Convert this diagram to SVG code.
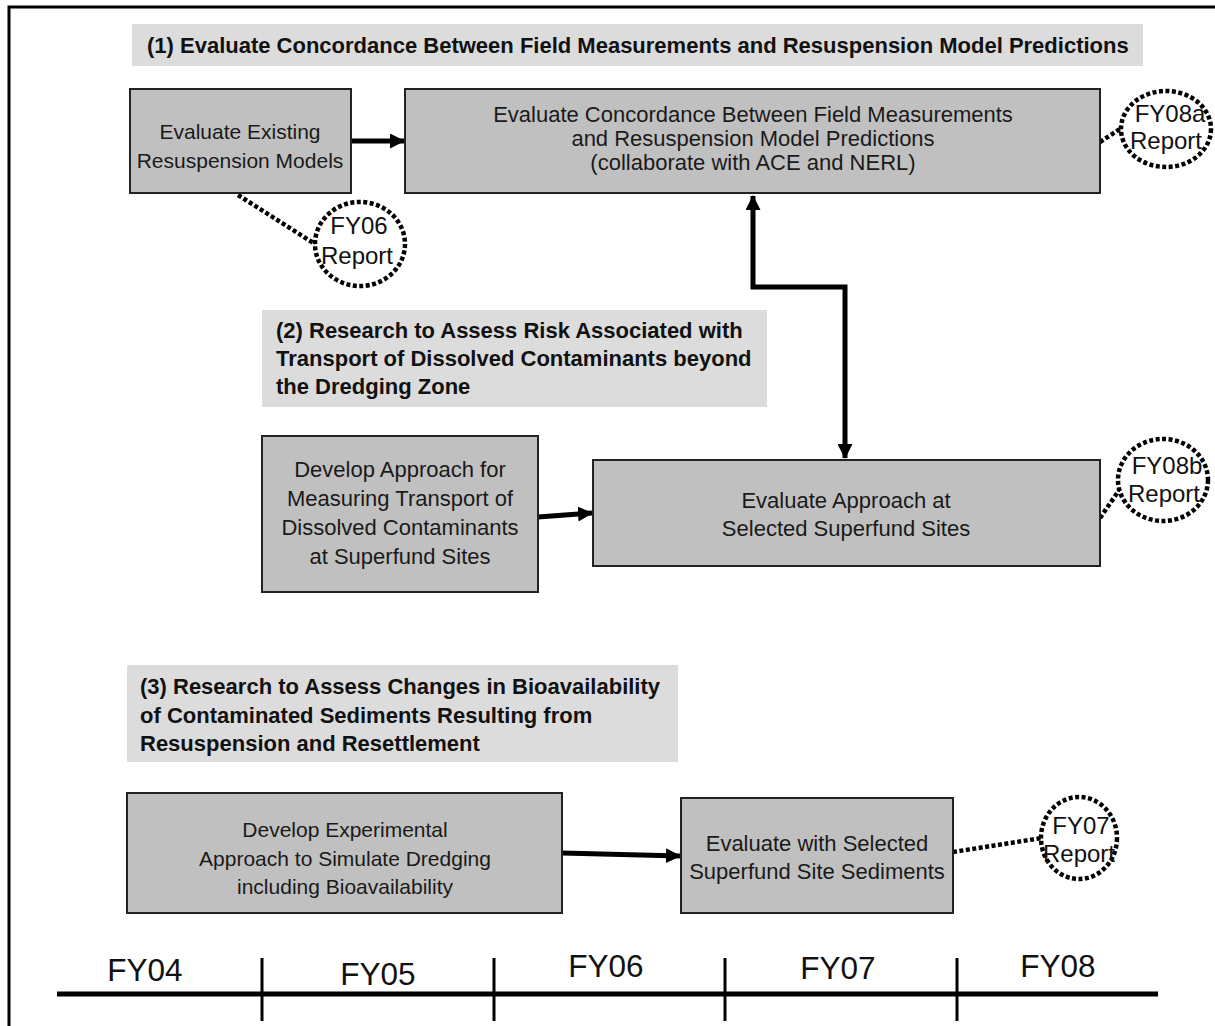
<svg xmlns="http://www.w3.org/2000/svg" width="1215" height="1026" viewBox="0 0 1215 1026">
  <style>
    .hdr { fill: #dcdcdc; stroke: none; }
    .hdr-text { font-family: "Liberation Sans", Arial, sans-serif; font-weight: bold; font-size: 22px; fill: #111; }
    .box { fill: #c0c0c0; stroke: #222; stroke-width: 2; }
    .box-text { font-family: "Liberation Sans", Arial, sans-serif; font-size: 22px; fill: #1a1a1a; text-anchor: middle; }
    .box-text.narrow { font-size: 21px; }
    .report { fill: #fff; stroke: #000; stroke-width: 4.5; stroke-dasharray: 4 2.5; }
    .report-text { font-family: "Liberation Sans", Arial, sans-serif; font-size: 24px; fill: #111; text-anchor: middle; }
    .dotted { fill: none; stroke: #000; stroke-width: 4.5; stroke-dasharray: 4 2.5; }
    .flow { fill: none; stroke: #000; stroke-width: 5; }
    .axis { stroke: #000; fill: none; }
    .year { font-family: "Liberation Sans", Arial, sans-serif; font-size: 31.5px; fill: #111; text-anchor: middle; }
  </style>
  <defs>
    <marker id="head" markerUnits="userSpaceOnUse" markerWidth="15" markerHeight="15" viewBox="0 0 15 15" refX="14" refY="7.5" orient="auto-start-reverse">
      <path d="M0,0 L15,7.5 L0,15 Z" fill="#000"/>
    </marker>
  </defs>

  <!-- frame -->
  <path d="M9,1026 V7 H1215" fill="none" stroke="#000" stroke-width="3"/>

  <!-- section headers -->
  <g id="header1">
    <rect class="hdr" x="132" y="24" width="1011" height="42"/>
    <text class="hdr-text" x="147" y="53">(1) Evaluate Concordance Between Field Measurements and Resuspension Model Predictions</text>
  </g>
  <g id="header2">
    <rect class="hdr" x="262" y="310" width="505" height="97"/>
    <text class="hdr-text" x="276" y="338">(2) Research to Assess Risk Associated with</text>
    <text class="hdr-text" x="276" y="366">Transport of Dissolved Contaminants beyond</text>
    <text class="hdr-text" x="276" y="394">the Dredging Zone</text>
  </g>
  <g id="header3">
    <rect class="hdr" x="127" y="665" width="551" height="97"/>
    <text class="hdr-text" x="140" y="694">(3) Research to Assess Changes in Bioavailability</text>
    <text class="hdr-text" x="140" y="723">of Contaminated Sediments Resulting from</text>
    <text class="hdr-text" x="140" y="751">Resuspension and Resettlement</text>
  </g>

  <!-- connectors -->
  <g id="connectors">
    <line class="flow" x1="351" y1="141" x2="404" y2="141" marker-end="url(#head)"/>
    <path class="flow" d="M753,196 V287 H845 V458" marker-start="url(#head)" marker-end="url(#head)"/>
    <line class="flow" x1="538" y1="517" x2="592" y2="513" marker-end="url(#head)"/>
    <line class="flow" x1="562" y1="853" x2="680" y2="856" marker-end="url(#head)"/>
    <line class="dotted" x1="238" y1="195" x2="315" y2="244"/>
    <line class="dotted" x1="1100" y1="142" x2="1123" y2="127"/>
    <line class="dotted" x1="1100" y1="518" x2="1122" y2="486"/>
    <line class="dotted" x1="953" y1="852" x2="1042" y2="838"/>
  </g>

  <!-- tasks -->
  <g id="evaluate-models">
    <rect class="box" x="130" y="89" width="221" height="104"/>
    <text class="box-text narrow" x="240" y="139">Evaluate Existing</text>
    <text class="box-text narrow" x="240" y="168">Resuspension Models</text>
  </g>
  <g id="evaluate-concordance">
    <rect class="box" x="405" y="89" width="695" height="104"/>
    <text class="box-text" x="753" y="122">Evaluate Concordance Between Field Measurements</text>
    <text class="box-text" x="753" y="146">and Resuspension Model Predictions</text>
    <text class="box-text" x="753" y="170">(collaborate with ACE and NERL)</text>
  </g>
  <g id="develop-approach">
    <rect class="box" x="262" y="436" width="276" height="156"/>
    <text class="box-text" x="400" y="477">Develop Approach for</text>
    <text class="box-text" x="400" y="506">Measuring Transport of</text>
    <text class="box-text" x="400" y="535">Dissolved Contaminants</text>
    <text class="box-text" x="400" y="564">at Superfund Sites</text>
  </g>
  <g id="evaluate-approach">
    <rect class="box" x="593" y="460" width="507" height="106"/>
    <text class="box-text" x="846" y="508">Evaluate Approach at</text>
    <text class="box-text" x="846" y="536">Selected Superfund Sites</text>
  </g>
  <g id="develop-experimental">
    <rect class="box" x="127" y="793" width="435" height="120"/>
    <text class="box-text narrow" x="345" y="837">Develop Experimental</text>
    <text class="box-text narrow" x="345" y="866">Approach to Simulate Dredging</text>
    <text class="box-text narrow" x="345" y="894">including Bioavailability</text>
  </g>
  <g id="evaluate-sediments">
    <rect class="box" x="681" y="798" width="272" height="115"/>
    <text class="box-text" x="817" y="851">Evaluate with Selected</text>
    <text class="box-text" x="817" y="879">Superfund Site Sediments</text>
  </g>

  <!-- report milestones -->
  <g id="report-fy06">
    <ellipse class="report" cx="360" cy="244" rx="45" ry="42"/>
    <text class="report-text" x="359" y="234">FY06</text>
    <text class="report-text" x="357" y="264">Report</text>
  </g>
  <g id="report-fy08a">
    <ellipse class="report" cx="1166" cy="129" rx="45" ry="38"/>
    <text class="report-text" x="1170" y="122">FY08a</text>
    <text class="report-text" x="1166" y="149">Report</text>
  </g>
  <g id="report-fy08b">
    <ellipse class="report" cx="1163" cy="480" rx="45" ry="41"/>
    <text class="report-text" x="1167" y="474">FY08b</text>
    <text class="report-text" x="1164" y="502">Report</text>
  </g>
  <g id="report-fy07">
    <ellipse class="report" cx="1079" cy="838" rx="38" ry="41"/>
    <text class="report-text" x="1081" y="834">FY07</text>
    <text class="report-text" x="1079" y="862">Report</text>
  </g>

  <!-- fiscal-year timeline -->
  <g id="timeline">
    <line class="axis" x1="57" y1="994" x2="1158" y2="994" stroke-width="5"/>
    <line class="axis" x1="262" y1="958" x2="262" y2="1021" stroke-width="3"/>
    <line class="axis" x1="494" y1="958" x2="494" y2="1021" stroke-width="3"/>
    <line class="axis" x1="725" y1="958" x2="725" y2="1021" stroke-width="3"/>
    <line class="axis" x1="957" y1="958" x2="957" y2="1021" stroke-width="3"/>
    <text class="year" x="145" y="981">FY04</text>
    <text class="year" x="378" y="985">FY05</text>
    <text class="year" x="606" y="977">FY06</text>
    <text class="year" x="838" y="979">FY07</text>
    <text class="year" x="1058" y="977">FY08</text>
  </g>
</svg>
